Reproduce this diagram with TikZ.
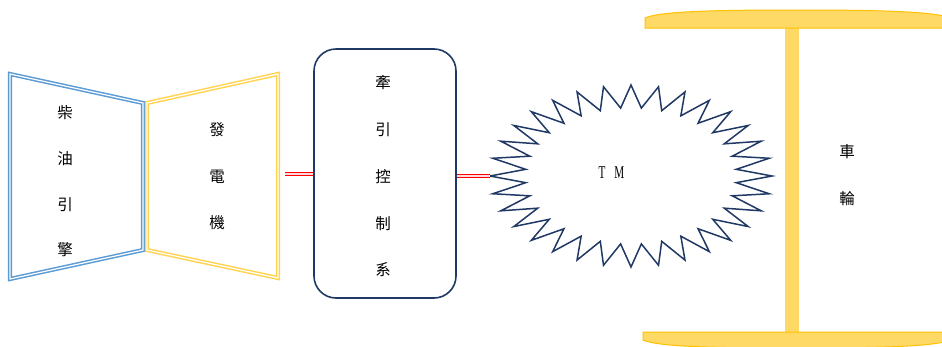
\documentclass[tikz,border=0pt]{standalone}
\usepackage{fontspec}
\usepackage{graphicx}
\newfontfamily\cjk{Noto Sans CJK TC}
\newfontfamily\tmfont{Liberation Serif}
\definecolor{navy}{HTML}{203864}
\definecolor{engblue}{HTML}{5B9BD5}
\definecolor{genyel}{HTML}{FFD452}
\definecolor{wheelfill}{HTML}{FFD966}
\definecolor{wheeledge}{HTML}{FFC000}
\tikzset{
  engshape/.style={draw=engblue, line width=1.5pt, double=white, double distance=1.2pt, line join=miter},
  genshape/.style={draw=genyel, line width=1.5pt, double=white, double distance=1.2pt, line join=miter},
  ctlbox/.style={draw=navy, line width=1.6pt, rounded corners=22pt, minimum width=142pt, minimum height=249pt, inner sep=0pt},
  starline/.style={draw=navy, line width=1.5pt, line join=miter},
  redlink/.style={draw=red, line width=1.3pt, double=white!85!red, double distance=1.3pt},
  wheelpart/.style={fill=wheelfill, draw=wheeledge, line width=1pt},
  vtext/.style={align=center, inner sep=0pt, font=\cjk\fontsize{15.5}{#1}\selectfont, text=black},
}
\begin{document}
\begin{tikzpicture}[x=1pt, y=-1pt]
\useasboundingbox (0,0) rectangle (942,346);

% diesel engine
\draw[engshape] (10,74) -- (143,103) -- (143,250) -- (10,279) -- cycle;
\node[vtext=45.7] (engtxt) at (65,181.5) {柴\\油\\引\\擎};

% generator
\draw[genshape] (147,103) -- (278,74) -- (278,278) -- (147,250) -- cycle;
\node[vtext=46.5] (gentxt) at (217,176.5) {發\\電\\機};
\coordinate (genOut) at (285,174);

% traction control
\node[ctlbox] (ctl) at (385,173.5) {};
\node[vtext=46.75] (ctltxt) at (383,176.5) {牽\\引\\控\\制\\系};

% traction motor (32-point star)
\def\cx{631}\def\cy{176}\def\rx{141}\def\ry{91}
\draw[starline] ({\cx+\rx},\cy)
  \foreach \k in {0,...,31} {
    -- ({\cx+0.75*\rx*cos(\k*11.25+5.625)},{\cy+0.75*\ry*sin(\k*11.25+5.625)})
    -- ({\cx+\rx*cos((\k+1)*11.25)},{\cy+\ry*sin((\k+1)*11.25)})
  } -- cycle;
\node[inner sep=0pt, font=\tmfont\fontsize{18}{18}\selectfont] (tm) at (611.5,172.5)
  {\scalebox{0.62}[1]{T}\hspace{9pt}\scalebox{0.62}[1]{M}};
\coordinate (tmIn) at (490,176);

% connectors
\draw[redlink] (genOut) -- (ctl.west |- genOut);
\draw[redlink] (ctl.east |- tmIn) -- (tmIn);

% wheel
\begin{scope}
\clip (0,0) rectangle (942,346);
\fill[wheelfill] (785,27) rectangle (799,333);
\draw[wheelpart] (645,28) -- (645,18) .. controls (660,11) and (720,10) .. (795,10)
  .. controls (870,10) and (935,11) .. (950,18) -- (950,28) -- cycle;
\draw[wheelpart] (643,332) -- (950,332) -- (950,340) .. controls (935,347) and (870,348) .. (795,348)
  .. controls (720,348) and (658,347) .. (643,340) -- cycle;
\end{scope}
\node[vtext=47] (wheeltxt) at (847,175.5) {車\\輪};
\end{tikzpicture}
\end{document}
